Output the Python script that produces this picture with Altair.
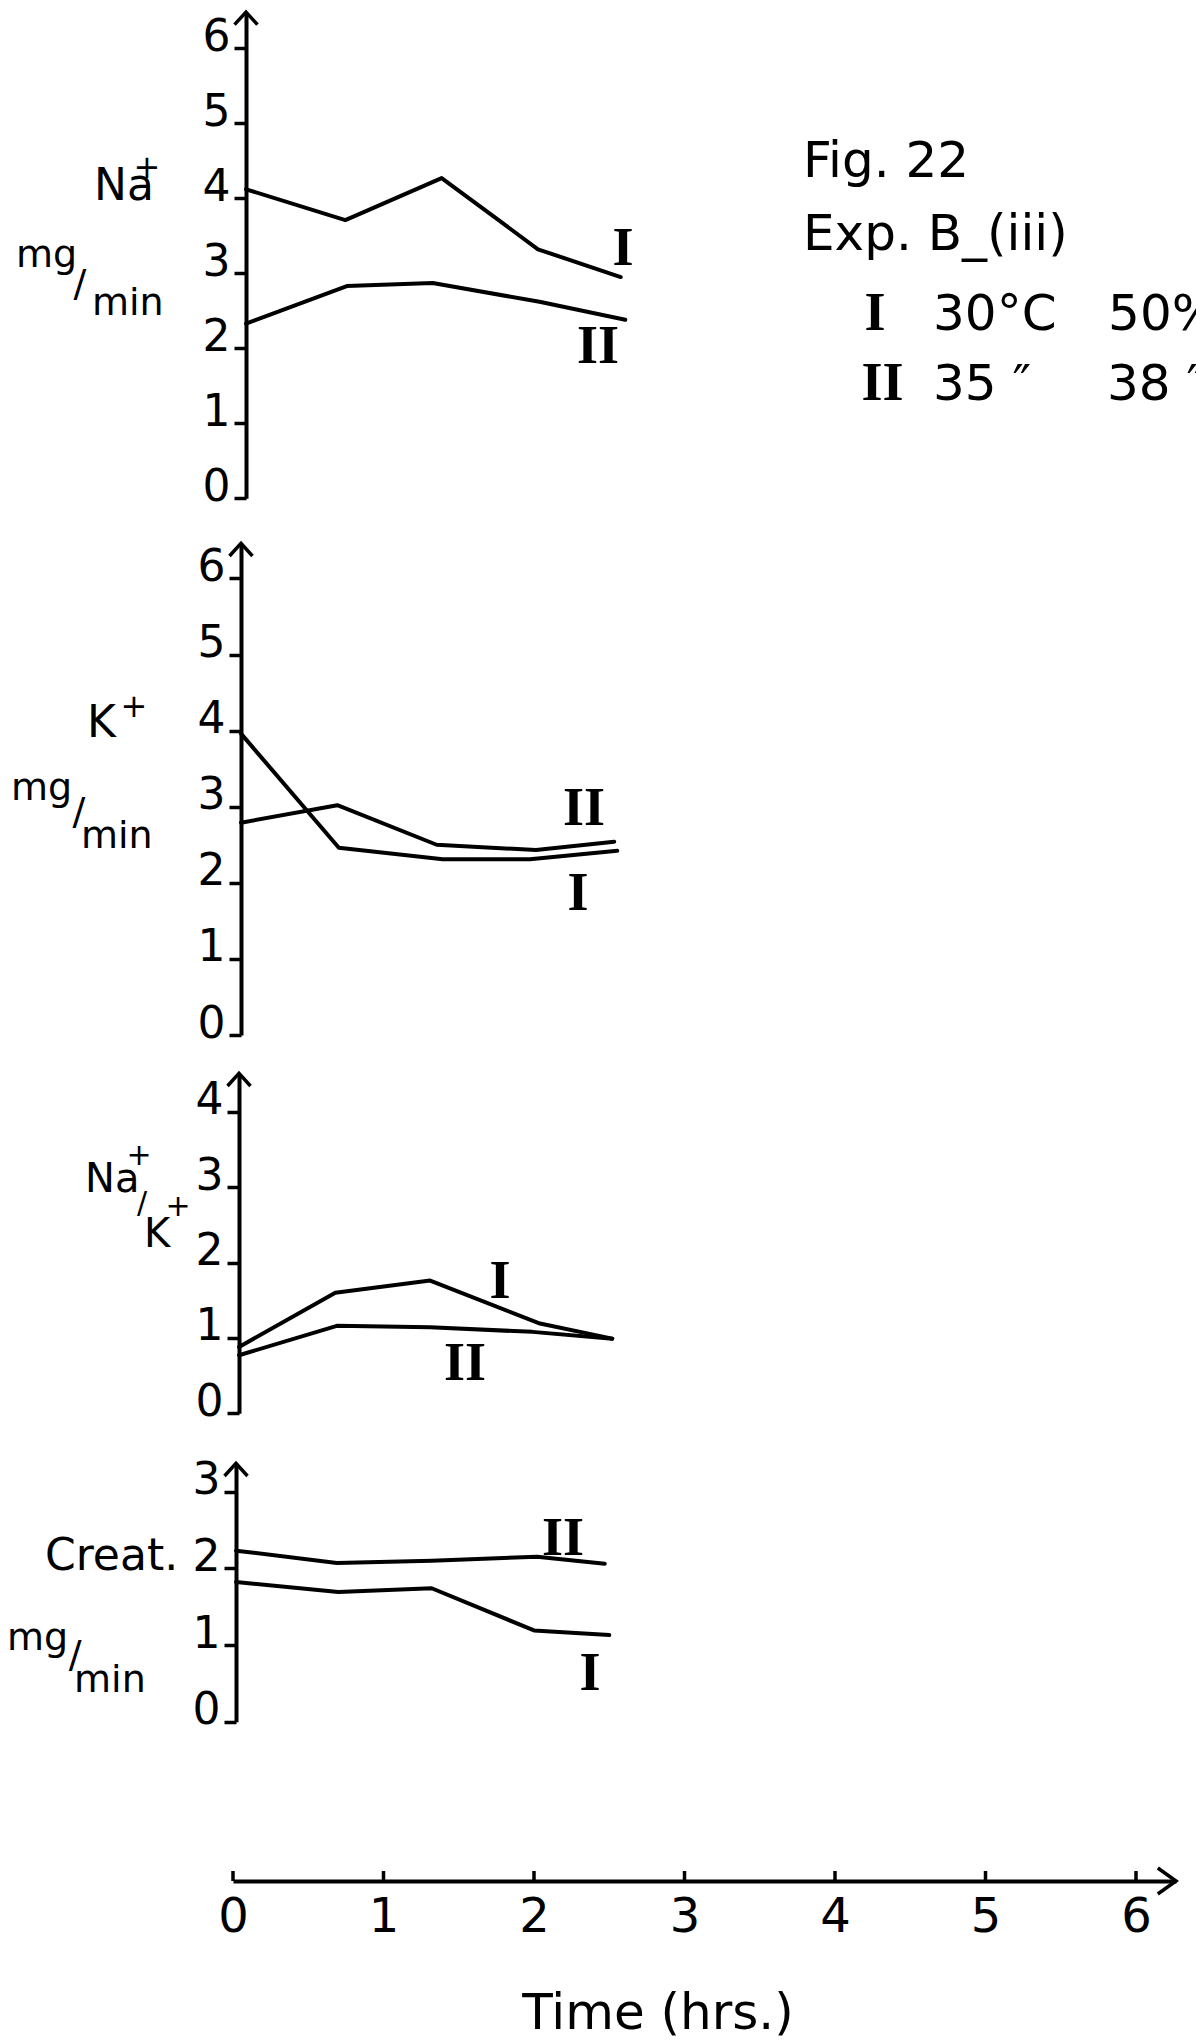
import altair as alt
import pandas as pd

# ------------------------------------------------------------------ data
TIME_TICKS = [0, 1, 2, 3, 4, 5, 6]

NA_T_I = [0.0, 0.66, 1.30, 1.94, 2.49]
NA_I = [4.12, 3.71, 4.27, 3.32, 2.95]
NA_T_II = [0.0, 0.67, 1.24, 1.95, 2.52]
NA_II = [2.33, 2.83, 2.87, 2.62, 2.38]

K_T_I = [0.0, 0.65, 1.34, 1.92, 2.50]
K_I = [3.96, 2.46, 2.31, 2.31, 2.42]
K_T_II = [0.0, 0.64, 1.30, 1.96, 2.48]
K_II = [2.79, 3.02, 2.50, 2.43, 2.54]

NAK_T_I = [0.0, 0.64, 1.27, 2.00, 2.48]
NAK_I = [0.88, 1.60, 1.76, 1.19, 0.99]
NAK_T_II = [0.0, 0.65, 1.27, 1.95, 2.48]
NAK_II = [0.77, 1.16, 1.14, 1.08, 0.99]

CR_T_I = [0.0, 0.68, 1.30, 1.98, 2.48]
CR_I = [1.82, 1.69, 1.74, 1.19, 1.13]
CR_T_II = [0.0, 0.67, 1.30, 2.00, 2.45]
CR_II = [2.23, 2.07, 2.10, 2.15, 2.06]

NA_TICKS = [0, 1, 2, 3, 4, 5, 6]
K_TICKS = [0, 1, 2, 3, 4, 5, 6]
NAK_TICKS = [0, 1, 2, 3, 4]
CR_TICKS = [0, 1, 2, 3]

# annotation texts (text, hours, value, font size)
NA_LABELS = [("Na", -1.010, 3.977, 44), ("+", -0.747, 4.271, 32),
             ("mg", -1.528, 3.084, 38), ("/", -1.146, 2.697, 38), ("min", -1.023, 2.444, 38)]
K_LABELS = [("K", -1.023, 3.916, 44), ("+", -0.800, 4.179, 32),
            ("mg", -1.528, 3.088, 38), ("/", -1.119, 2.773, 38), ("min", -1.063, 2.457, 38)]
NAK_LABELS = [("Na", -1.023, 2.935, 40), ("+", -0.748, 3.293, 30), ("/", -0.678, 2.656, 30),
              ("K", -0.631, 2.206, 40), ("+", -0.489, 2.617, 30)]
CR_LABELS = [("Creat.", -1.269, 1.978, 44), ("mg", -1.522, 0.935, 38),
             ("/", -1.112, 0.713, 38), ("min", -1.076, 0.387, 38)]
INFO_LABELS = [("Fig. 22", 3.701, 4.284, 50), ("Exp. B_(iii)", 3.701, 3.311, 50),
               ("30°C", 4.565, 2.244, 50), ("50%", 5.728, 2.244, 50),
               ("35 ″", 4.565, 1.311, 50), ("38 ″", 5.721, 1.311, 50)]
INFO_ROMAN = [("I", 4.179, 2.244), ("II", 4.229, 1.311)]

NA_ROMAN = [("I", 2.505, 3.111), ("II", 2.339, 1.804)]
K_ROMAN = [("II", 2.279, 2.759), ("I", 2.239, 1.643)]
NAK_ROMAN = [("I", 1.734, 1.529), ("II", 1.502, 0.442)]
CR_ROMAN = [("II", 2.173, 2.173), ("I", 2.352, 0.413)]

# ------------------------------------------------------------------ layout / style
W, H = 1196, 2042
PXH = 150.5
FONT = "DejaVu Sans"
SERIF = "Liberation Serif"
UP = "M -1 1.1 L 0 0 L 1 1.1"
RIGHT = "M -1.4 -1 L 0 0 L -1.4 1"
LINE_W = 4
AXIS_W = 4

LAYOUT = {
    "na": dict(ax=246, y0=498.3, ppu=75.0, tip=12),
    "k": dict(ax=241, y0=1035.0, ppu=76.1, tip=543.3),
    "nak": dict(ax=239, y0=1413.3, ppu=75.4, tip=1073.3),
    "cr": dict(ax=236, y0=1721.7, ppu=76.7, tip=1463.3),
}
TIME_AXIS = dict(x0=233, tip=1176, y=1881)

ONE = pd.DataFrame({"a": [0]})


def panel(cfg, series, ticks, labels, romans, extra=None, extra_roman=None):
    xs = alt.Scale(domain=[0, 6], range=[cfg["ax"], cfg["ax"] + 6 * PXH], nice=False, zero=False)
    top = (cfg["y0"] - cfg["tip"]) / cfg["ppu"]
    ys = alt.Scale(domain=[0, top], range=[cfg["y0"], cfg["tip"]], nice=False, zero=False)
    rows = []
    for name, ts, vs in series:
        rows += [{"t": t, "v": v, "s": name} for t, v in zip(ts, vs)]
    df = pd.DataFrame(rows)
    layers = []
    layers.append(
        alt.Chart(df).mark_line(color="black", strokeWidth=LINE_W, strokeJoin="round", strokeCap="round").encode(
            x=alt.X("t:Q", scale=xs, axis=None),
            y=alt.Y("v:Q", scale=ys, axis=alt.Axis(
                orient="left", offset=-cfg["ax"], values=ticks, title=None, grid=False,
                domainWidth=AXIS_W, domainColor="black", tickColor="black", tickWidth=3.5, tickSize=12,
                labelFont=FONT, labelFontSize=44, labelColor="black", labelBaseline="alphabetic",
                labelPadding=4, labelFlush=False, labelOverlap=False, labelOffset=2)),
            detail="s:N",
        )
    )
    layers.append(
        alt.Chart(ONE).mark_point(shape=UP, size=529, filled=False, color="black", strokeWidth=3.5, opacity=1).encode(
            x=alt.XDatum(0, scale=xs, axis=None),
            y=alt.YDatum(top, scale=ys, axis=None),
        )
    )
    allt = list(labels) + (list(extra) if extra else [])
    tdf = pd.DataFrame(allt, columns=["text", "x", "y", "fs"])
    layers.append(
        alt.Chart(tdf).mark_text(font=FONT, align="left", baseline="alphabetic", color="black").encode(
            x=alt.X("x:Q", scale=xs, axis=None),
            y=alt.Y("y:Q", scale=ys, axis=None),
            text="text:N",
            size=alt.Size("fs:Q", scale=None, legend=None),
        )
    )
    allr = list(romans) + (list(extra_roman) if extra_roman else [])
    rdf = pd.DataFrame(allr, columns=["text", "x", "y"])
    layers.append(
        alt.Chart(rdf).mark_text(font=SERIF, fontWeight="bold", fontSize=54, align="center",
                                 baseline="alphabetic", color="black").encode(
            x=alt.X("x:Q", scale=xs, axis=None),
            y=alt.Y("y:Q", scale=ys, axis=None),
            text="text:N",
        )
    )
    return layers


layers = []
layers += panel(LAYOUT["na"], [("I", NA_T_I, NA_I), ("II", NA_T_II, NA_II)], NA_TICKS, NA_LABELS, NA_ROMAN,
                extra=INFO_LABELS, extra_roman=INFO_ROMAN)
layers += panel(LAYOUT["k"], [("I", K_T_I, K_I), ("II", K_T_II, K_II)], K_TICKS, K_LABELS, K_ROMAN)
layers += panel(LAYOUT["nak"], [("I", NAK_T_I, NAK_I), ("II", NAK_T_II, NAK_II)], NAK_TICKS, NAK_LABELS, NAK_ROMAN)
layers += panel(LAYOUT["cr"], [("I", CR_T_I, CR_I), ("II", CR_T_II, CR_II)], CR_TICKS, CR_LABELS, CR_ROMAN)

# time axis
tmax = (TIME_AXIS["tip"] - TIME_AXIS["x0"]) / PXH
xs_b = alt.Scale(domain=[0, tmax], range=[TIME_AXIS["x0"], TIME_AXIS["tip"]], nice=False, zero=False)
ys_b = alt.Scale(domain=[0, 1], range=[TIME_AXIS["y"], TIME_AXIS["y"] - 10], nice=False, zero=False)
layers.append(
    alt.Chart(pd.DataFrame({"h": TIME_TICKS})).mark_rule(color="black", strokeWidth=3.5).encode(
        x=alt.X("h:Q", scale=xs_b, axis=alt.Axis(
            orient="bottom", offset=-(H - TIME_AXIS["y"]), values=TIME_TICKS, title=None, grid=False,
            ticks=False, tickSize=0, domainWidth=AXIS_W, domainColor="black",
            labelFont=FONT, labelFontSize=48, labelColor="black", labelPadding=12,
            labelFlush=False, labelOverlap=False)),
        y=alt.YDatum(0, scale=ys_b, axis=None),
        y2=alt.Y2Datum(1),
    )
)
layers.append(
    alt.Chart(ONE).mark_point(shape=RIGHT, size=676, filled=False, color="black", strokeWidth=3.5, opacity=1).encode(
        x=alt.XDatum(tmax, scale=xs_b, axis=None),
        y=alt.YDatum(0, scale=ys_b, axis=None),
    )
)
layers.append(
    alt.Chart(pd.DataFrame({"text": ["Time (hrs.)"], "x": [2.824], "y": [-14.8]})).mark_text(
        font=FONT, fontSize=50, align="center", baseline="alphabetic", color="black").encode(
        x=alt.X("x:Q", scale=xs_b, axis=None),
        y=alt.Y("y:Q", scale=ys_b, axis=None),
        text="text:N",
    )
)

chart = (
    alt.layer(*layers)
    .resolve_scale(x="independent", y="independent")
    .properties(width=W, height=H, autosize=alt.AutoSizeParams(type="none"), padding=0, background="white")
    .configure_view(stroke=None)
)

chart.save("out.html", embed_options={"renderer": "svg", "actions": False})
